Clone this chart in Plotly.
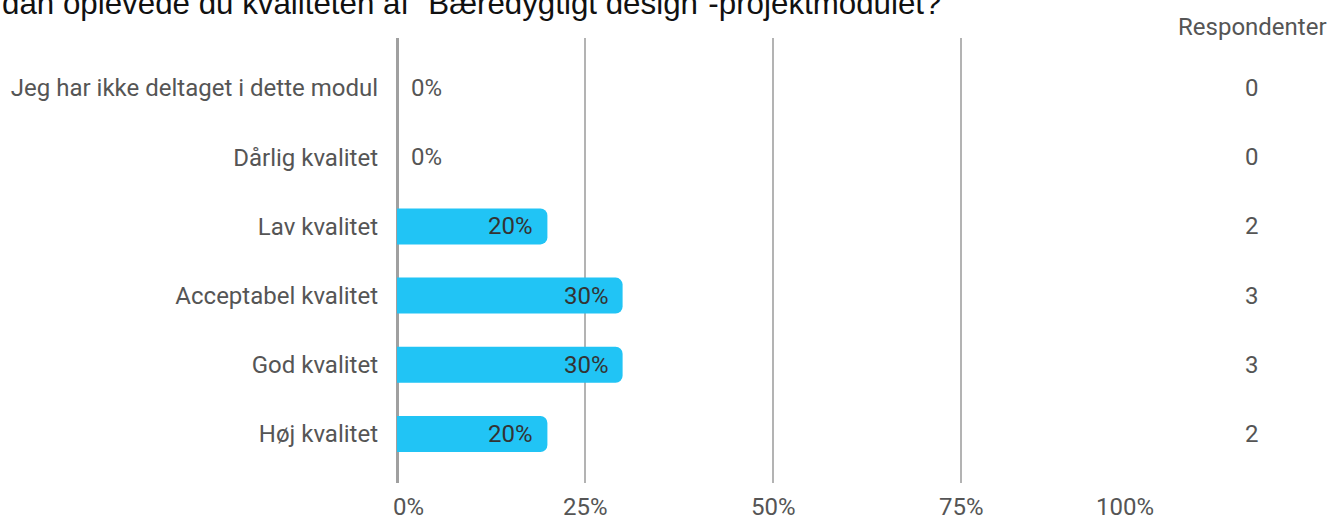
import plotly.graph_objects as go

categories = ["Jeg har ikke deltaget i dette modul", "Dårlig kvalitet", "Lav kvalitet",
              "Acceptabel kvalitet", "God kvalitet", "Høj kvalitet"]
shares = [0.0, 0.0, 0.20, 0.30, 0.30, 0.20]
respondents = [0, 0, 2, 3, 3, 2]
x_ticks = [0, 0.25, 0.5, 0.75, 1.0]
x_tick_labels = ["0%", "25%", "50%", "75%", "100%"]
title_text = "dan oplevede du kvaliteten af \u201cBæredygtigt design\u201d-projektmodulet?"
count_header = "Respondenter"

W, H = 1329, 518
L, R, T, B = 397, 1149, 38, 483
pw, ph = R - L, B - T
row0, step = 88, 69.2
ypos = list(range(len(categories)))

FS = 24
label_font = dict(family="Roboto", size=FS, color="#555555")

fig = go.Figure()
fig.add_trace(go.Bar(
    x=shares, y=ypos, orientation="h", width=36 / step,
    marker=dict(color="#21C4F5", line=dict(width=0)),
    hoverinfo="skip",
))

ann = []
for i, (v, n) in enumerate(zip(shares, respondents)):
    txt = f"{round(v * 100)}%"
    if v > 0:
        ann.append(dict(x=v, y=i, xref="x", yref="y", text=txt, showarrow=False,
                        xanchor="right", xshift=-12,
                        font=dict(family="Roboto", size=FS, color="#333333")))
    else:
        ann.append(dict(x=0, y=i, xref="x", yref="y", text=txt, showarrow=False,
                        xanchor="left", xshift=12,
                        font=dict(family="Roboto", size=FS, color="#555555")))
    ann.append(dict(x=(1252 - L) / pw, y=i, xref="paper", yref="y", text=str(n),
                    showarrow=False, xanchor="center", font=label_font))

for k, (tv, tl) in enumerate(zip(x_ticks, x_tick_labels)):
    if k == 0:
        xa, xs = "left", -6
    elif k == len(x_ticks) - 1:
        xa, xs = "right", 7
    else:
        xa, xs = "center", 0
    ann.append(dict(x=tv, y=0, xref="x", yref="paper", text=tl, showarrow=False,
                    xanchor=xa, xshift=xs, yanchor="middle", yshift=-24,
                    font=label_font))

ann.append(dict(x=(1252 - L) / pw, y=(B - 27) / ph, xref="paper", yref="paper",
                text=count_header, showarrow=False, xanchor="center", yanchor="middle",
                font=label_font))
ann.append(dict(x=-L / pw, y=(B - 0) / ph, xref="paper", yref="paper",
                text=title_text, showarrow=False, xanchor="left", yanchor="middle",
                yshift=-4,
                font=dict(family="Liberation Sans", size=31.3, color="#111111")))

fig.update_layout(
    width=W, height=H,
    margin=dict(l=L, r=W - R, t=T, b=H - B, pad=0),
    paper_bgcolor="white", plot_bgcolor="white",
    showlegend=False,
    barcornerradius=7,
    annotations=ann,
    xaxis=dict(range=[0, 1], tickvals=x_ticks, showticklabels=False,
               showgrid=True, gridcolor="#b3b3b3", gridwidth=1.5,
               zeroline=True, zerolinecolor="#a0a0a0", zerolinewidth=3,
               showline=False, fixedrange=True),
    yaxis=dict(range=[(B - row0) / step, (T - row0) / step],
               tickvals=ypos, ticktext=categories, tickfont=label_font,
               showgrid=False, zeroline=False, showline=False, ticks="",
               ticklabelstandoff=18, fixedrange=True),
)

fig.write_html("out.html", config={"displayModeBar": False},
               post_script="document.body.style.margin='0px';document.body.style.overflow='hidden';")
